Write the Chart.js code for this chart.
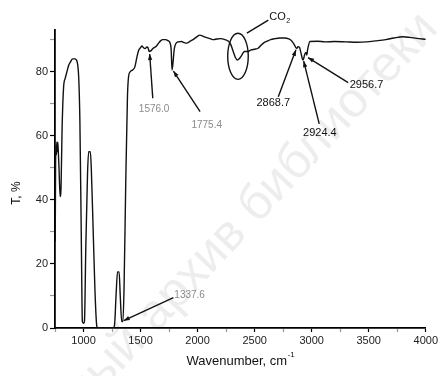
<!DOCTYPE html>
<html>
<head>
<meta charset="utf-8">
<script src="https://cdn.jsdelivr.net/npm/chart.js@4.4.0/dist/chart.umd.min.js"></script>
<style>
html, body { margin: 0; padding: 0; background: #fff; }
#wrap { width: 440px; height: 376px; }
</style>
</head>
<body>
<div id="wrap"><canvas id="ir_chart" width="440" height="376"></canvas></div>
<script>
// IR spectrum
var wavenumbers = [752, 755, 758, 762, 766, 770, 774, 778, 785, 795, 803, 812, 825, 840, 855, 870, 885, 905, 925, 945, 958, 968, 980, 990, 1000,
	1008, 1020, 1035, 1045, 1060, 1068, 1085, 1100, 1115, 1125, 1260, 1272, 1285, 1298, 1312, 1322, 1335, 1345, 1355, 1370, 1385, 1395,
	1410, 1430, 1450, 1465, 1482, 1500, 1512, 1525, 1540, 1555, 1565, 1576, 1590, 1610, 1640, 1660, 1675, 1695, 1715, 1740, 1758, 1768,
	1776, 1785, 1795, 1810, 1830, 1860, 1880, 1905, 1930, 1960, 1990, 2020, 2050, 2080, 2110, 2140, 2170, 2200, 2240, 2270, 2290, 2310,
	2330, 2348, 2365, 2385, 2410, 2440, 2470, 2500, 2530, 2555, 2580, 2610, 2640, 2680, 2720, 2760, 2800, 2825, 2845, 2868, 2880, 2893,
	2905, 2924, 2940, 2950, 2957, 2965, 2985, 3050, 3120, 3200, 3300, 3400, 3480, 3560, 3650, 3720, 3800, 3860, 3920, 3970, 4000];
var transmittance = [27, 50, 57, 54, 58, 55, 58, 56, 50, 41, 44, 62, 75, 78, 80, 82, 83, 84, 84, 83, 78, 65, 30, 2, 1.5,
	2, 25, 48, 55, 55, 50, 30, 12, 1, 0, 0, 1, 10, 17.5, 17.5, 10, 2, 2, 12, 45, 72, 78.5,
	80, 80.5, 81.5, 84, 86.5, 87.5, 88, 87.5, 87.2, 87.7, 87.5, 86.3, 86.5, 87.3, 88, 89, 89.6, 90, 90, 89.7, 89, 87,
	80.5, 83, 87, 88.8, 89.3, 89.4, 89.1, 88.9, 89.4, 90, 90.8, 91.4, 91, 90.6, 90.3, 90, 90.2, 90.3, 90, 89.5, 88.5, 86.5,
	84.5, 83.6, 84, 85, 86.3, 86.3, 86.8, 87, 87.3, 88.2, 89, 89.5, 90, 90.3, 90.5, 90.5, 90.2, 89.6, 88.6, 87.2, 87.8, 87.6,
	86, 83.6, 85.5, 86, 85.2, 87, 89.4, 89.5, 89.3, 89.4, 89.3, 89.2, 89.3, 89.6, 90, 90.5, 90.9, 90.7, 90.4, 90.2, 90.1];

var xMin = 750, xMax = 4000;
var yMin = 0, yMax = 93;

// peak labels: text, label centre, line start, arrow tip (all in data units)
var peakLabels = [
	{ text: '1576.0', grey: true, at: [1619, 68.4], from: [1607, 71.7], to: [1580, 85.5] },
	{ text: '1775.4', grey: true, at: [2080, 63.4], from: [2022, 67.5], to: [1788, 80.2] },
	{ text: '1337.6', grey: true, at: [1930, 10.1], from: [1788, 9.5], to: [1352, 2.3] },
	{ text: '2868.7', grey: false, at: [2663, 70.1], from: [2707, 72.2], to: [2862, 86.8] },
	{ text: '2924.4', grey: false, at: [3072, 60.8], from: [3066, 63.7], to: [2930, 83.3] },
	{ text: '2956.7', grey: false, at: [3481, 75.8], from: [3320, 76.6], to: [2968, 84.4] }
];
var co2Mark = { centre: [2354, 84.8], rx: 90, ry: 7.2, from: [2620, 96.1], to: [2432, 92], at: [2628, 97] };

var font = "'Liberation Sans', Arial, sans-serif";

function tickColour(c) {
	return c.tick && c.tick.major ? '#000' : '#999';
}

var watermark = {
	id: 'watermark',
	beforeDraw: function(chart) {
		var c = chart.ctx;
		c.save();
		c.fillStyle = 'rgba(0,0,0,0.07)';
		c.font = '50px ' + font;
		var full = 'Электронный архив библиотеки';
		var lead = c.measureText('Электронны').width;
		c.translate(128, 364);
		c.rotate(-47 * Math.PI / 180);
		c.fillText(full, -lead, 0);
		c.restore();
	}
};

function arrow(c, x1, y1, x2, y2) {
	c.beginPath();
	c.moveTo(x1, y1);
	c.lineTo(x2, y2);
	c.stroke();
	var a = Math.atan2(y2 - y1, x2 - x1);
	var len = 6, w = 2.2;
	c.beginPath();
	c.moveTo(x2, y2);
	c.lineTo(x2 - len * Math.cos(a) + w * Math.sin(a), y2 - len * Math.sin(a) - w * Math.cos(a));
	c.lineTo(x2 - len * Math.cos(a) - w * Math.sin(a), y2 - len * Math.sin(a) + w * Math.cos(a));
	c.closePath();
	c.fill();
}

var notes = {
	id: 'notes',
	afterDraw: function(chart) {
		var c = chart.ctx;
		var sx = chart.scales.x, sy = chart.scales.y;
		function px(p) { return [sx.getPixelForValue(p[0]), sy.getPixelForValue(p[1])]; }
		c.save();
		c.lineWidth = 1.4;
		c.textAlign = 'center';
		c.textBaseline = 'middle';
		peakLabels.forEach(function(p) {
			var col = p.grey ? '#8a8a8a' : '#111';
			c.strokeStyle = '#111';
			c.fillStyle = '#111';
			var f = px(p.from), t = px(p.to), a = px(p.at);
			arrow(c, f[0], f[1], t[0], t[1]);
			c.fillStyle = col;
			c.font = (p.grey ? '10px ' : '11px ') + font;
			c.fillText(p.text, a[0], a[1]);
		});

		// CO2 ellipse
		var ce = px(co2Mark.centre);
		var rx = Math.abs(sx.getPixelForValue(co2Mark.centre[0] + co2Mark.rx) - ce[0]);
		var ry = Math.abs(sy.getPixelForValue(co2Mark.centre[1] + co2Mark.ry) - ce[1]);
		c.strokeStyle = '#111';
		c.beginPath();
		c.ellipse(ce[0], ce[1], rx, ry, 0, 0, Math.PI * 2);
		c.stroke();
		var f = px(co2Mark.from), t = px(co2Mark.to), a = px(co2Mark.at);
		c.beginPath();
		c.moveTo(f[0], f[1]);
		c.lineTo(t[0], t[1]);
		c.stroke();
		c.fillStyle = '#111';
		c.textAlign = 'left';
		c.font = '11px ' + font;
		c.fillText('CO', a[0], a[1]);
		var w = c.measureText('CO').width;
		c.font = '7px ' + font;
		c.fillText('2', a[0] + w + 0.5, a[1] + 4);

		// axis titles
		c.font = '13px ' + font;
		c.textAlign = 'left';
		var xt = 'Wavenumber, cm';
		var xw = c.measureText(xt).width;
		c.font = '8px ' + font;
		var sw = c.measureText('-1').width;
		var x0 = (sx.left + sx.right) / 2 - (xw + sw) / 2;
		c.font = '13px ' + font;
		c.fillText(xt, x0, 361);
		c.font = '8px ' + font;
		c.fillText('-1', x0 + xw + 0.5, 355);

		c.translate(17, 193);
		c.rotate(-Math.PI / 2);
		c.textAlign = 'center';
		c.font = '12px ' + font;
		c.fillText('T, %', 0, 0);
		c.restore();
	}
};

var ctx = document.getElementById('ir_chart').getContext('2d');
var points = wavenumbers.map(function(w, i) { return { x: w, y: transmittance[i] }; });

var chart = new Chart(ctx, {
	type: 'line',
	data: {
		datasets: [{
			data: points,
			borderColor: '#111',
			borderWidth: 1.4,
			pointRadius: 0,
			fill: false,
			cubicInterpolationMode: 'monotone'
		}]
	},
	options: {
		responsive: false,
		animation: false,
		layout: { padding: { top: 30, right: 14, left: 0, bottom: 0 } },
		plugins: { legend: { display: false }, tooltip: { enabled: false } },
		scales: {
			x: {
				type: 'linear',
				min: xMin,
				max: xMax,
				border: { color: '#000', width: 1.8 },
				grid: { drawOnChartArea: false, tickLength: 4, tickColor: tickColour, tickWidth: 1.2 },
				ticks: {
					stepSize: 250,
					includeBounds: false,
					autoSkip: false,
					maxRotation: 0,
					padding: 2,
					color: '#222',
					font: { family: font, size: 11 },
					major: { enabled: true },
					callback: function(v) { return v % 500 === 0 ? v : ''; }
				},
				afterBuildTicks: function(s) { s.ticks.forEach(function(t) { t.major = t.value % 500 === 0; }); },
				afterFit: function(s) { s.height = 48; }
			},
			y: {
				min: yMin,
				max: yMax,
				border: { color: '#000', width: 1.8 },
				grid: { drawOnChartArea: false, tickLength: 5, tickColor: tickColour, tickWidth: 1.2 },
				ticks: {
					stepSize: 10,
					includeBounds: false,
					autoSkip: false,
					padding: 2,
					color: '#222',
					font: { family: font, size: 11 },
					callback: function(v) { return v % 20 === 0 ? v : ''; }
				},
				afterBuildTicks: function(s) { s.ticks.forEach(function(t) { t.major = t.value % 20 === 0; }); },
				afterFit: function(s) { s.width = 55; }
			}
		}
	},
	plugins: [watermark, notes]
});
</script>
</body>
</html>
